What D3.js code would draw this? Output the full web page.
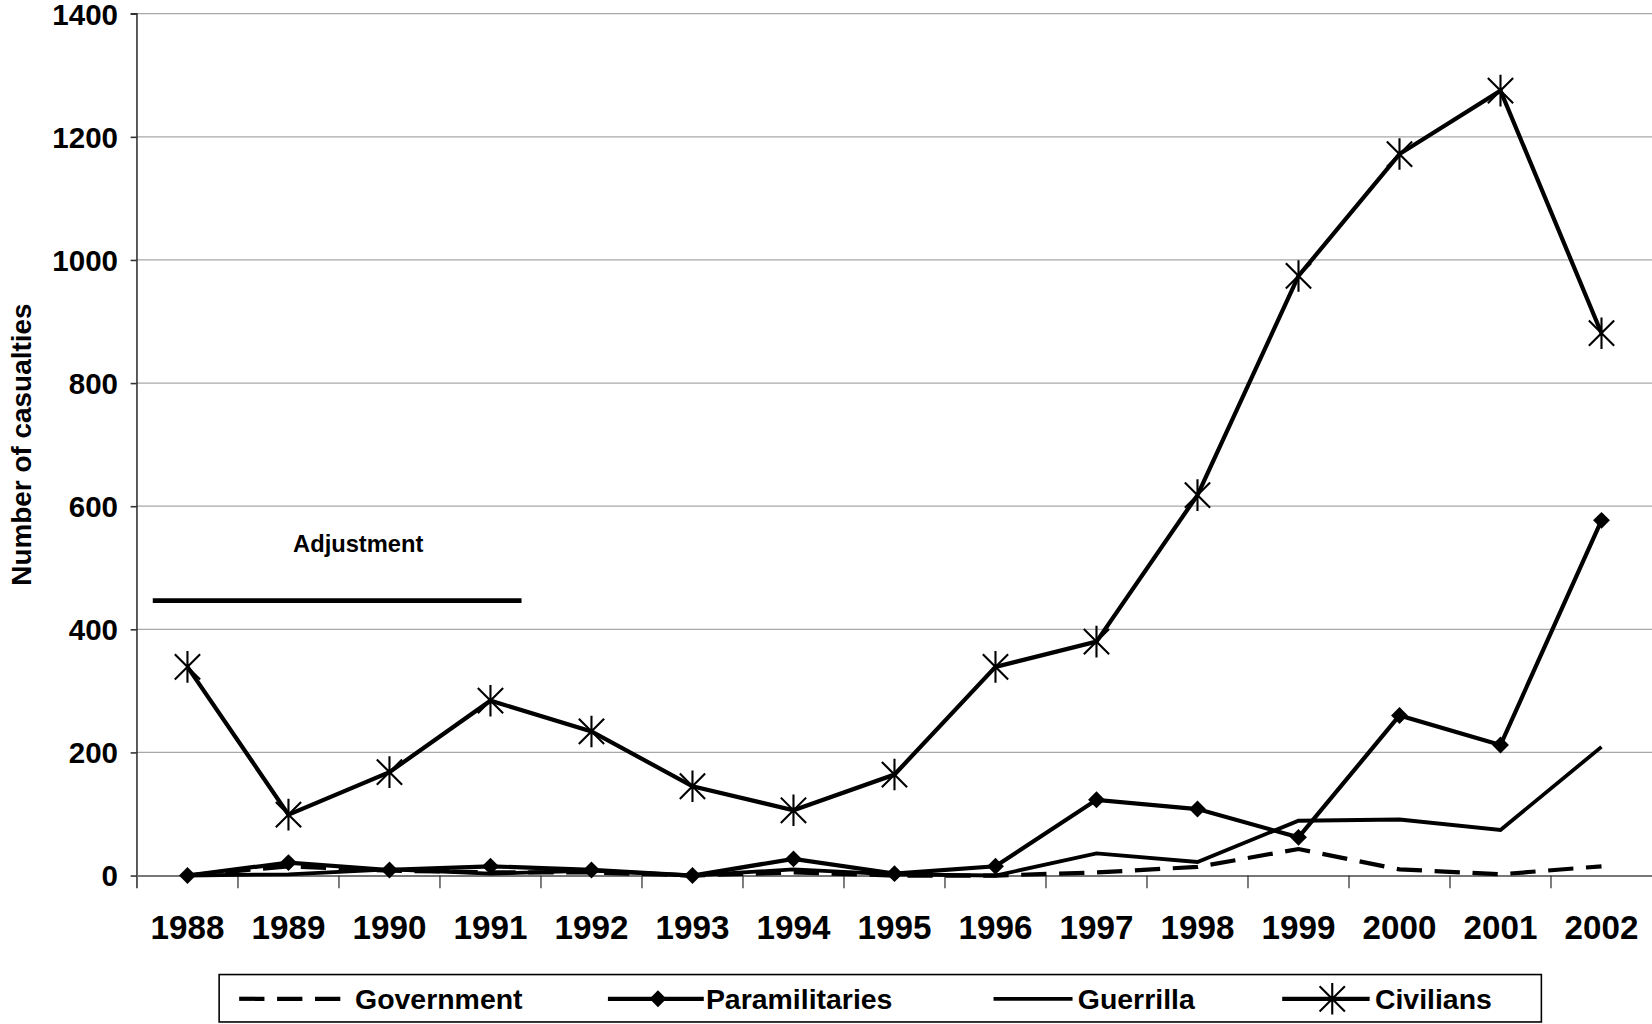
<!DOCTYPE html>
<html>
<head>
<meta charset="utf-8">
<script src="https://cdn.jsdelivr.net/npm/d3@7"></script>
<style>
  body { margin: 0; background: #fff; }
  text { font-family: "Liberation Sans", Arial, sans-serif; font-weight: bold; fill: #000; }
</style>
</head>
<body>
<svg id="chart" width="1652" height="1024"></svg>
<script>
const years = ["1988","1989","1990","1991","1992","1993","1994","1995","1996","1997","1998","1999","2000","2001","2002"];
const government = [0, 15, 8, 5, 5, 0, 5, 0, 0, 5, 14, 43, 10, 2, 15];
const paramilitaries = [0, 21, 9, 15, 9, 0, 27, 3, 15, 123, 108, 62, 260, 212, 577];
const guerrilla = [0, 2, 10, 3, 8, 0, 10, 2, 0, 36, 22, 89, 91, 74, 209];
const civilians = [339, 99, 168, 284, 234, 145, 106, 164, 339, 380, 618, 974, 1172, 1275, 881];
const yTicks = [0, 200, 400, 600, 800, 1000, 1200, 1400];
const legendNames = ["Government", "Paramilitaries", "Guerrilla", "Civilians"];

(function () {
const FONT = '"Liberation Sans", Arial, sans-serif';
const svg = d3.select("#chart").append("g").attr("transform", `scale(${1652 / 1568})`);
const pL = 130, pR = 1568, pT = 13, pB = 831;

const x = d3.scaleBand().domain(years).range([pL, pR]).padding(0);
const y = d3.scaleLinear().domain([0, 1400]).range([pB, pT]);
const cx = d => x(d) + x.bandwidth() / 2;

// gridlines
svg.append("g").selectAll("line").data(yTicks.filter(t => t > 0)).join("line")
  .attr("x1", pL).attr("x2", pR)
  .attr("y1", d => y(d)).attr("y2", d => y(d))
  .attr("stroke", "#a8a8a8").attr("stroke-width", 1.2);

// y axis
const yAxis = d3.axisLeft(y).tickValues(yTicks).tickFormat(d3.format("d")).tickSize(6).tickPadding(12);
const gy = svg.append("g").attr("transform", `translate(${pL},0)`).call(yAxis);
gy.select(".domain").attr("stroke", "#333").attr("stroke-width", 1.5).attr("d", `M-6,${pT}H0V${pB + 12}`);
gy.selectAll(".tick line").attr("stroke", "#333").attr("stroke-width", 1.5);
gy.selectAll(".tick text").style("font-size", "28px").style("font-family", FONT).style("font-weight", "bold").attr("fill", "#000").attr("dy", "0.35em");

// x axis
const xAxis = d3.axisBottom(x).tickSize(0).tickPadding(38);
const gx = svg.append("g").attr("transform", `translate(0,${pB})`).call(xAxis);
gx.select(".domain").attr("stroke", "#777").attr("stroke-width", 2);
gx.selectAll(".tick text").style("font-size", "31.5px").style("font-family", FONT).style("font-weight", "bold").attr("fill", "#000");
// category boundary ticks
svg.append("g").selectAll("line").data(years.slice(1)).join("line")
  .attr("x1", d => x(d)).attr("x2", d => x(d))
  .attr("y1", pB).attr("y2", pB + 12)
  .attr("stroke", "#333").attr("stroke-width", 1.2);

// y title
svg.append("text")
  .attr("transform", `translate(29,${(pT + pB) / 2}) rotate(-90)`)
  .attr("text-anchor", "middle")
  .style("font-size", "26.5px")
  .text("Number of casualties");

const line = d3.line().x((d, i) => cx(years[i])).y(d => y(d));

// government dashed
svg.append("path").datum(government).attr("d", line)
  .attr("fill", "none").attr("stroke", "#000").attr("stroke-width", 4)
  .attr("stroke-dasharray", "24,12");
// guerrilla
svg.append("path").datum(guerrilla).attr("d", line)
  .attr("fill", "none").attr("stroke", "#000").attr("stroke-width", 3.6);
// paramilitaries
svg.append("path").datum(paramilitaries).attr("d", line)
  .attr("fill", "none").attr("stroke", "#000").attr("stroke-width", 4);
const diamond = "M0,-8L8,0L0,8L-8,0Z";
svg.append("g").selectAll("path").data(paramilitaries).join("path")
  .attr("transform", (d, i) => `translate(${cx(years[i])},${y(d)})`)
  .attr("d", diamond).attr("fill", "#000");
// civilians
svg.append("path").datum(civilians).attr("d", line)
  .attr("fill", "none").attr("stroke", "#000").attr("stroke-width", 4);
const asterisk = "M-12,-12L12,12M-12,12L12,-12M0,-15L0,15";
svg.append("g").selectAll("path").data(civilians).join("path")
  .attr("transform", (d, i) => `translate(${cx(years[i])},${y(d)})`)
  .attr("d", asterisk).attr("fill", "none").attr("stroke", "#000").attr("stroke-width", 2);

// Adjustment annotation
svg.append("line").attr("x1", 145).attr("x2", 495).attr("y1", 570).attr("y2", 570)
  .attr("stroke", "#000").attr("stroke-width", 4.5);
svg.append("text").attr("x", 340).attr("y", 524).attr("text-anchor", "middle")
  .style("font-size", "22.5px").text("Adjustment");

// legend
const lg = svg.append("g");
lg.append("rect").attr("x", 208).attr("y", 925).attr("width", 1255).attr("height", 45)
  .attr("fill", "#fff").attr("stroke", "#000").attr("stroke-width", 1.5);
const ly = 948;
const legendItems = [
  { x1: 227, x2: 330, tx: 337, dash: "24,12", w: 4, marker: null },
  { x1: 577, x2: 668, tx: 670, dash: null, w: 4, marker: diamond },
  { x1: 943, x2: 1018, tx: 1023, dash: null, w: 3.6, marker: null },
  { x1: 1217, x2: 1300, tx: 1305, dash: null, w: 4, marker: asterisk }
];
legendItems.forEach((it, i) => {
  lg.append("line").attr("x1", it.x1).attr("x2", it.x2).attr("y1", ly).attr("y2", ly)
    .attr("stroke", "#000").attr("stroke-width", it.w)
    .attr("stroke-dasharray", it.dash);
  if (it.marker === diamond) {
    lg.append("path").attr("d", diamond).attr("transform", `translate(${(it.x1 + it.x2) / 2 + 2},${ly})`).attr("fill", "#000");
  } else if (it.marker === asterisk) {
    lg.append("path").attr("d", asterisk).attr("transform", `translate(${(it.x1 + it.x2) / 2 + 6},${ly})`)
      .attr("fill", "none").attr("stroke", "#000").attr("stroke-width", 2);
  }
  lg.append("text").attr("x", it.tx).attr("y", ly).attr("dy", "0.35em")
    .style("font-size", "27px").text(legendNames[i]);
});
})();
</script>
</body>
</html>
